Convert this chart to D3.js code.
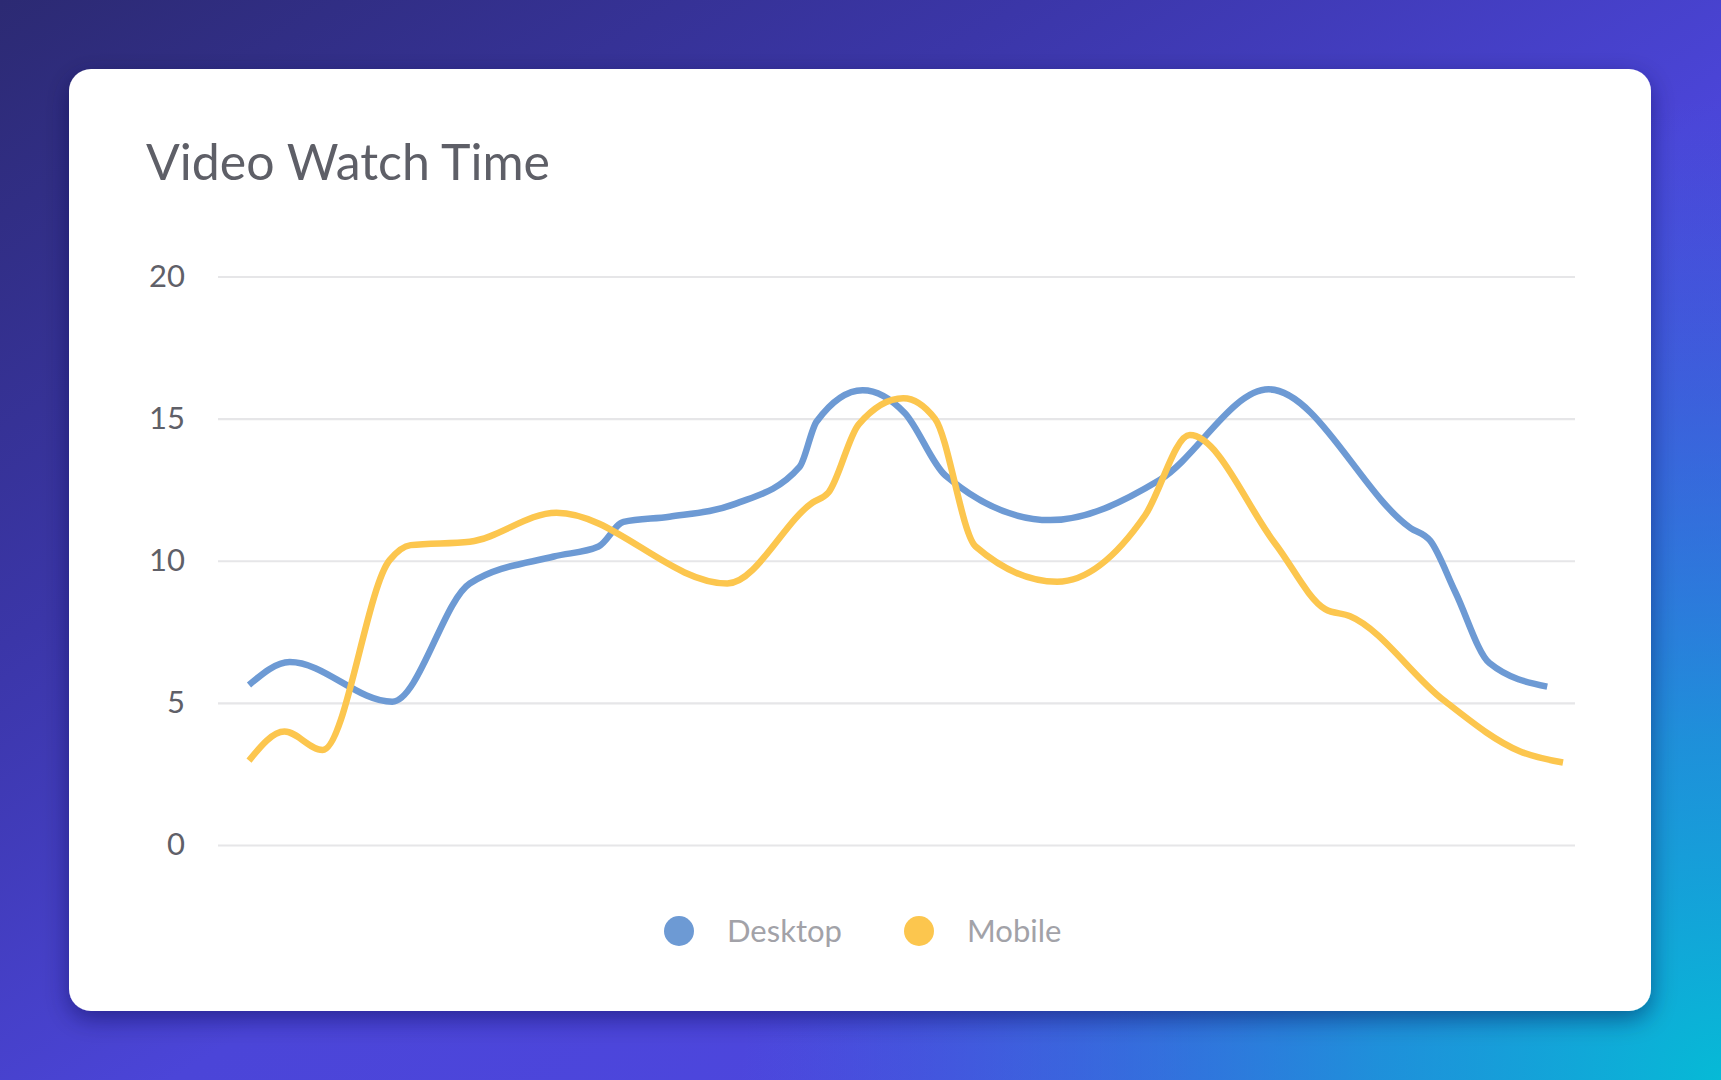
<!DOCTYPE html>
<html>
<head>
<meta charset="utf-8">
<script src="https://cdn.jsdelivr.net/npm/d3@7"></script>
<style>
  html, body { margin: 0; padding: 0; overflow: hidden; }
  svg { display: block; font-family: Lato, "Open Sans", sans-serif; }
</style>
</head>
<body>
<div id="chart"></div>
<script>
// series data (x = position along the timeline, 0..100)
var desktopX = [0, 3.1, 10.9, 16.8, 23.2, 26.6, 28.5, 32.0, 37.0, 41.9, 43.2, 46.7, 49.9, 53.0, 61.0, 69.3, 77.6, 88.4, 89.9, 91.8, 94.4, 98.8];
var desktopY = [5.63, 6.44, 5.04, 9.2, 10.15, 10.5, 11.37, 11.55, 12.0, 13.3, 14.9, 16.0, 15.2, 13.0, 11.43, 12.84, 16.03, 11.15, 10.7, 8.9, 6.4, 5.57];
var mobileX = [0, 2.7, 5.6, 10.7, 12.3, 16.8, 23.4, 36.4, 42.9, 44.1, 46.4, 49.8, 52.2, 55.3, 61.5, 68.2, 71.6, 78.1, 81.9, 83.8, 90.9, 96.7, 100];
var mobileY = [2.97, 3.99, 3.34, 10.02, 10.55, 10.67, 11.69, 9.2, 12.05, 12.4, 14.8, 15.72, 15.0, 10.5, 9.26, 11.6, 14.42, 10.6, 8.3, 8.05, 5.1, 3.3, 2.9];
var seriesNames = ['Desktop', 'Mobile'];
var seriesColors = ['#6d9ad4', '#fcc64e'];
var yTicks = [0, 5, 10, 15, 20];
var title = 'Video Watch Time';

var width = 1721;
var height = 1080;
var card = {x: 69, y: 69, w: 1582, h: 942, r: 22};
var plot = {left: 218, right: 1575, top: 276.5, bottom: 845};

var svg = d3.select('#chart').append('svg')
  .attr('width', width)
  .attr('height', height);

var defs = svg.append('defs');
var bg = defs.append('linearGradient').attr('id', 'bg')
  .attr('x1', 0).attr('y1', 0).attr('x2', 1).attr('y2', 1);
bg.append('stop').attr('offset', 0).attr('stop-color', '#2c2a73');
bg.append('stop').attr('offset', 0.3).attr('stop-color', '#3b36a8');
bg.append('stop').attr('offset', 0.55).attr('stop-color', '#4b45d8');
bg.append('stop').attr('offset', 1).attr('stop-color', '#4f48e4');

var glow = defs.append('radialGradient').attr('id', 'glow')
  .attr('gradientUnits', 'userSpaceOnUse')
  .attr('cx', width).attr('cy', height).attr('r', 980);
glow.append('stop').attr('offset', 0).attr('stop-color', '#06bad6').attr('stop-opacity', 1);
glow.append('stop').attr('offset', 0.35).attr('stop-color', '#0fa8d8').attr('stop-opacity', 0.75);
glow.append('stop').attr('offset', 1).attr('stop-color', '#2a7ee0').attr('stop-opacity', 0);

var shadow = defs.append('filter').attr('id', 'shadow')
  .attr('x', '-5%').attr('y', '-5%').attr('width', '110%').attr('height', '115%');
shadow.append('feDropShadow').attr('dx', 0).attr('dy', 8).attr('stdDeviation', 12)
  .attr('flood-color', '#0b0b40').attr('flood-opacity', 0.45);

svg.append('rect').attr('width', width).attr('height', height).attr('fill', 'url(#bg)');
svg.append('rect').attr('width', width).attr('height', height).attr('fill', 'url(#glow)');

svg.append('rect')
  .attr('x', card.x).attr('y', card.y)
  .attr('width', card.w).attr('height', card.h)
  .attr('rx', card.r).attr('ry', card.r)
  .attr('fill', '#ffffff')
  .attr('filter', 'url(#shadow)');

svg.append('text')
  .attr('x', 146).attr('y', 180)
  .attr('font-size', 50)
  .attr('fill', '#5e5f67')
  .text(title);

// scales
var x = d3.scaleLinear().domain([0, 100]).range([249, 1563]);
var y = d3.scaleLinear().domain([0, 20]).range([plot.bottom, plot.top]);

// y axis with gridlines
var yAxis = svg.append('g')
  .attr('transform', 'translate(' + plot.left + ',0)')
  .call(d3.axisLeft(y).tickValues(yTicks).tickSize(-(plot.right - plot.left)).tickPadding(33));
yAxis.select('.domain').remove();
yAxis.selectAll('.tick line').attr('stroke', '#e6e6e8').attr('stroke-width', 2.2);
yAxis.selectAll('.tick text')
  .attr('font-family', 'Lato, sans-serif')
  .attr('font-size', 31)
  .attr('fill', '#5f6068');

// lines
var line = d3.line()
  .x(function (d) { return x(d[0]); })
  .y(function (d) { return y(d[1]); })
  .curve(d3.curveMonotoneX);

var series = [
  d3.zip(desktopX, desktopY),
  d3.zip(mobileX, mobileY)
];

svg.append('g').selectAll('path')
  .data(series)
  .join('path')
  .attr('d', line)
  .attr('fill', 'none')
  .attr('stroke', function (d, i) { return seriesColors[i]; })
  .attr('stroke-width', 6.5)
  .attr('stroke-linejoin', 'round');

// legend
var legendX = [679, 919];
var legend = svg.append('g').selectAll('g')
  .data(seriesNames)
  .join('g')
  .attr('transform', function (d, i) { return 'translate(' + legendX[i] + ',931)'; });
legend.append('circle')
  .attr('r', 15)
  .attr('fill', function (d, i) { return seriesColors[i]; });
legend.append('text')
  .attr('x', 48)
  .attr('dy', '0.35em')
  .attr('font-size', 31)
  .attr('fill', '#a2a2a8')
  .text(function (d) { return d; });
</script>
</body>
</html>
